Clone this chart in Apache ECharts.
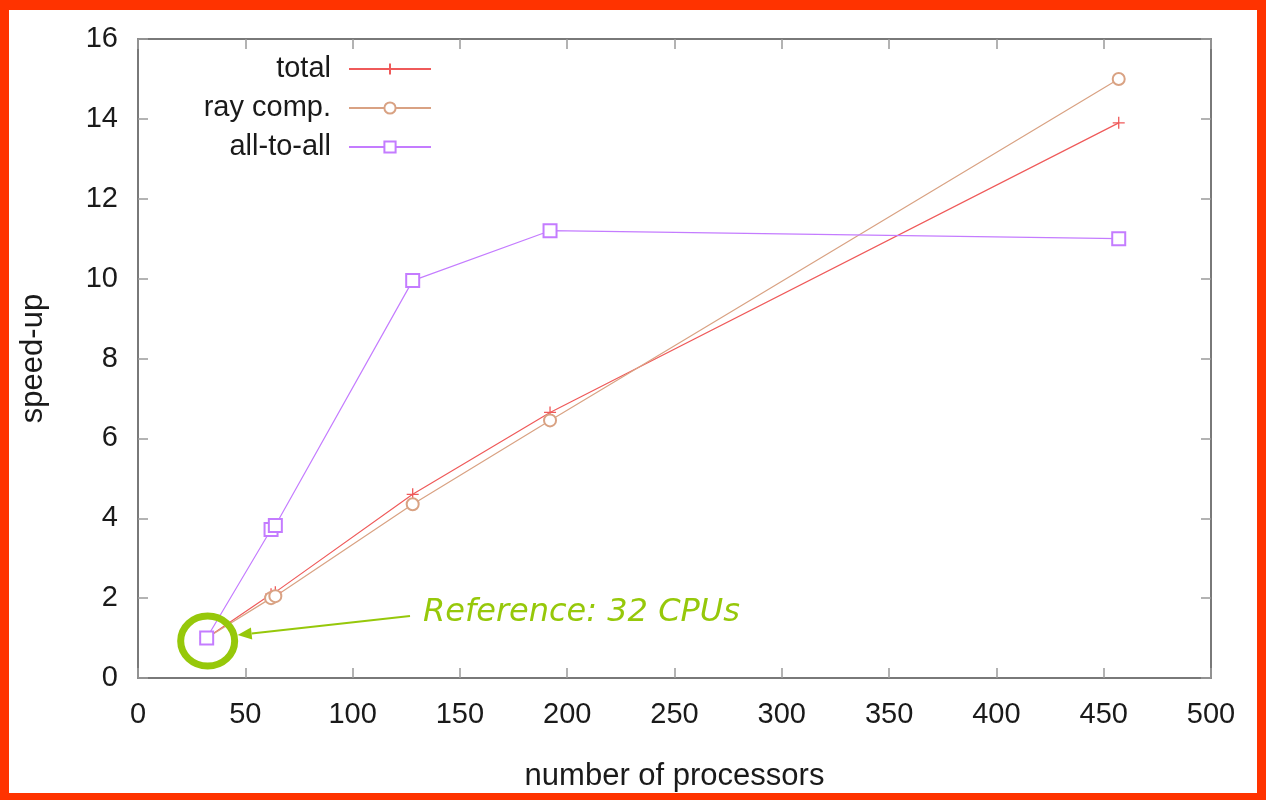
<!DOCTYPE html>
<html><head><meta charset="utf-8">
<script src="https://cdn.jsdelivr.net/npm/echarts@6/dist/echarts.min.js"></script>
<style>html,body{margin:0;padding:0;background:#fff}#c{width:1266px;height:800px}</style>
</head><body><div id="c"></div>
<script>
// ---- data ----
const processors = [32, 62, 64, 128, 192, 457];
const totalSpeedup = [1.0, 2.1, 2.15, 4.6, 6.65, 13.9];
const rayCompSpeedup = [1.0, 2.0, 2.05, 4.35, 6.45, 15.0];
const allToAllSpeedup = [1.0, 3.72, 3.82, 9.95, 11.2, 11.0];
const seriesNames = ['total', 'ray comp.', 'all-to-all'];
const xRange = [0, 500, 50];
const yRange = [0, 16, 2];
const xTitle = 'number of processors';
const yTitle = 'speed-up';
const noteText = 'Reference: 32 CPUs';

// ---- styles ----
const font = '"Liberation Sans", Arial, Helvetica, sans-serif';
const txtColor = '#1a1a1a';
const axisLine = {show: true, onZero: false, lineStyle: {color: '#4d4d4d', width: 1.5}};
const tick = {show: true, inside: true, length: 10, lineStyle: {color: '#9a9a9a', width: 1.5}};
const colors = ['#ef5a5a', '#d9a283', '#c47cff'];
const green = '#96c80a';

function mk(name, ys, color, symbol, size) {
  return {
    name, type: 'line', data: processors.map((x, i) => [x, ys[i]]),
    symbol, symbolSize: size, showSymbol: true,
    lineStyle: {color, width: 1.2},
    itemStyle: {color, borderColor: color, borderWidth: 1.3},
    emphasis: {disabled: true}, animation: false
  };
}

const chart = echarts.init(document.getElementById('c'));
const xBase = {type: 'value', min: xRange[0], max: xRange[1], interval: xRange[2], splitLine: {show: false}, axisLine, axisTick: tick};
const yBase = {type: 'value', min: yRange[0], max: yRange[1], interval: yRange[2], splitLine: {show: false}, axisLine, axisTick: tick};
chart.setOption({
  animation: false,
  backgroundColor: '#fff',
  grid: {left: 138, right: 55, top: 39, bottom: 122, containLabel: false, outerBoundsMode: 'none'},
  xAxis: [
    Object.assign({}, xBase, {position: 'bottom',
      axisLabel: {fontFamily: font, fontSize: 29, color: txtColor, margin: 22},
      name: xTitle, nameLocation: 'middle', nameGap: 83,
      nameTextStyle: {fontFamily: font, fontSize: 31, color: txtColor}}),
    Object.assign({}, xBase, {position: 'top', axisLabel: {show: false}})
  ],
  yAxis: [
    Object.assign({}, yBase, {position: 'left',
      axisLabel: {fontFamily: font, fontSize: 29, color: txtColor, margin: 20},
      name: yTitle, nameLocation: 'middle', nameGap: 89, nameRotate: 90,
      nameTextStyle: {fontFamily: font, fontSize: 31, color: txtColor}}),
    Object.assign({}, yBase, {position: 'right', axisLabel: {show: false}})
  ],
  legend: {
    orient: 'vertical', align: 'right', right: 834, top: 54, padding: 0,
    itemWidth: 82, itemHeight: 14, itemGap: 9, selectedMode: false,
    textStyle: {fontFamily: font, fontSize: 29, color: txtColor, lineHeight: 30, padding: [0, 13, 0, 0]},
    data: seriesNames
  },
  series: [
    mk(seriesNames[0], totalSpeedup, colors[0], 'path://M0,5L10,5M5,0L5,10', 12),
    mk(seriesNames[1], rayCompSpeedup, colors[1], 'emptyCircle', 12),
    mk(seriesNames[2], allToAllSpeedup, colors[2], 'emptyRect', 13)
  ]
});

// ---- annotation, anchored on the reference point ----
const p = chart.convertToPixel({gridIndex: 0}, [processors[0], allToAllSpeedup[0]]);
const cx = p[0] + 1, cy = p[1] + 3;
const tail = [410, 616];
const tip = [cx + 30, cy - 6];
const dx = tip[0] - tail[0], dy = tip[1] - tail[1];
const L = Math.hypot(dx, dy), ux = dx / L, uy = dy / L;
const hl = 14, hw = 6;
const base = [tip[0] - ux * hl, tip[1] - uy * hl];
chart.setOption({
  graphic: [
    {type: 'rect', silent: true, z: 100, shape: {x: 0, y: 0, width: 1266, height: 10}, style: {fill: '#ff3300'}},
    {type: 'rect', silent: true, z: 100, shape: {x: 0, y: 793, width: 1266, height: 7}, style: {fill: '#ff3300'}},
    {type: 'rect', silent: true, z: 100, shape: {x: 0, y: 0, width: 9, height: 800}, style: {fill: '#ff3300'}},
    {type: 'rect', silent: true, z: 100, shape: {x: 1257, y: 0, width: 9, height: 800}, style: {fill: '#ff3300'}},
    {type: 'ellipse', silent: true, z: 50, shape: {cx, cy, rx: 27, ry: 25}, style: {fill: 'none', stroke: green, lineWidth: 7}},
    {type: 'line', silent: true, z: 50, shape: {x1: tail[0], y1: tail[1], x2: base[0], y2: base[1]}, style: {stroke: green, lineWidth: 2}},
    {type: 'polygon', silent: true, z: 50, shape: {points: [tip, [base[0] - uy * hw, base[1] + ux * hw], [base[0] + uy * hw, base[1] - ux * hw]]}, style: {fill: green}},
    {type: 'text', silent: true, z: 50, x: 423, y: 613, style: {text: noteText, fill: green, font: 'italic 32px "DejaVu Sans", Verdana, sans-serif', verticalAlign: 'middle', align: 'left'}}
  ]
});
</script></body></html>
